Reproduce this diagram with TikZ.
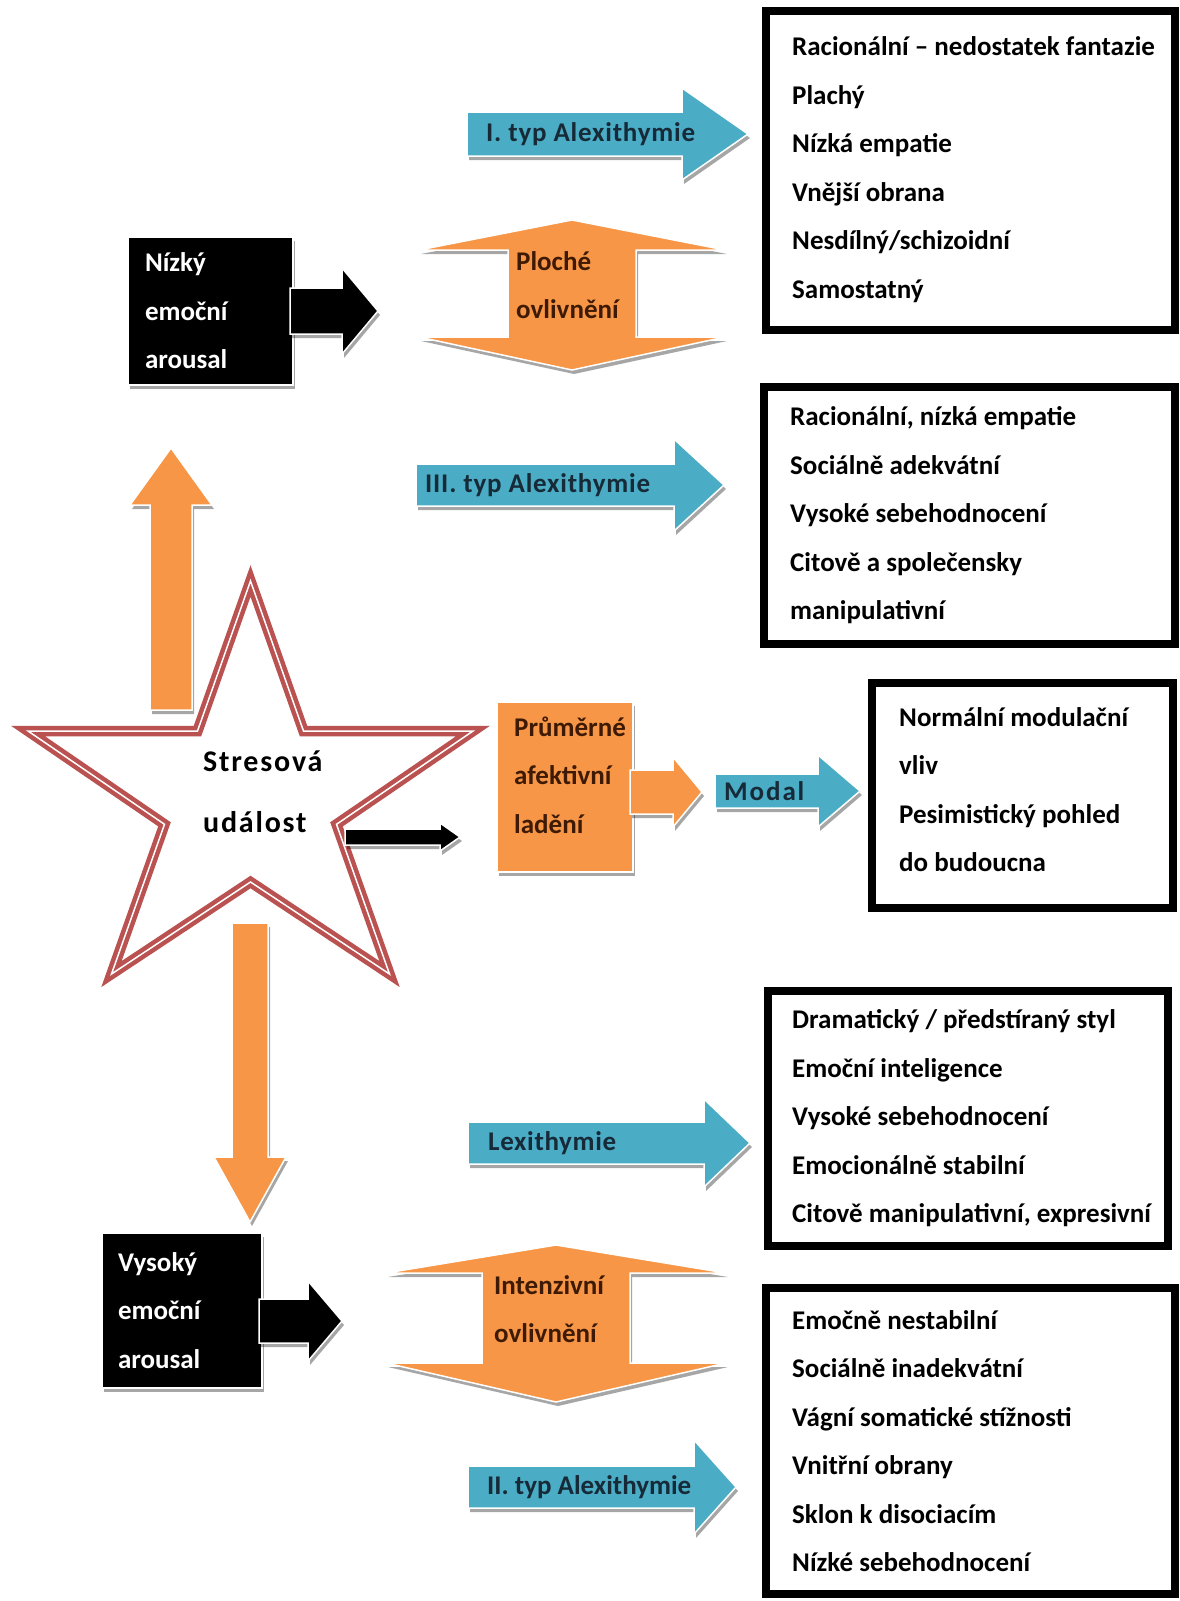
\documentclass[tikz,border=0pt]{standalone}
\usepackage{fontspec}
\setmainfont{Carlito}
\usetikzlibrary{shadows}

\definecolor{aqua}{RGB}{75,172,198}
\definecolor{orng}{RGB}{247,150,70}
\definecolor{starred}{RGB}{185,82,80}
\definecolor{aquatext}{RGB}{22,42,56}
\definecolor{orngtext}{RGB}{62,26,4}

\tikzset{
  blockshadow/.style={drop shadow={shadow xshift=2pt,shadow yshift=-4pt,opacity=.35,fill=black}},
  aquaarrow/.style={fill=aqua,draw=white,line width=1.5pt,blockshadow},
  orngarrow/.style={fill=orng,draw=white,line width=1.5pt,blockshadow},
  blackarrow/.style={fill=black,draw=white,line width=1.5pt,blockshadow},
  darkbox/.style={fill=black,draw=white,line width=1.5pt,blockshadow,text=white,align=left,inner sep=0pt},
  orngbox/.style={fill=orng,draw=white,line width=1.5pt,blockshadow,inner sep=0pt},
  listframe/.style={draw,line width=8pt,inner sep=0pt},
  inframe/.style={draw,line width=1.4pt},
  listtext/.style={anchor=west,align=left,inner sep=0pt},
  aquatxt/.style={anchor=west,inner sep=0pt,text=aquatext,
    font=\bfseries\fontsize{27}{48.5}\selectfont\addfontfeatures{LetterSpace=#1}},
  aquatxt/.default=0,
  orngtxt/.style={anchor=west,align=left,inner sep=0pt,text=orngtext},
  starline/.style={draw=starred,line width=4.5pt,double=white,double distance=1.5pt,line join=miter,fill=white}
}

\begin{document}
\begin{tikzpicture}[x=1pt,y=-1pt,font=\bfseries\fontsize{27}{48.5}\selectfont]
\useasboundingbox (0,0) rectangle (1179,1601);
\fill[white] (0,0) rectangle (1179,1601);

% star and the vertical arrows
\path[starline] (250.5,581) -- (197.5,731) -- (28,731) -- (164.5,824.3) -- (111.5,974) -- (250.5,882)
  -- (389.5,974) -- (336.5,824.3) -- (473,731) -- (303.5,731) -- cycle;
\node[anchor=west,align=left,inner sep=0pt,font=\bfseries\fontsize{30}{61}\selectfont\addfontfeatures{LetterSpace=6}] (stres) at (203,792) {Stresová\\událost};

\path[orngarrow] (150,710) -- (150,505) -- (130,505) -- (171,448) -- (212,505) -- (192,505) -- (192,710) -- cycle;
\path[orngarrow] (232,923) -- (232,1157) -- (214,1157) -- (250,1222) -- (286,1157) -- (268,1157) -- (268,923) -- cycle;

% arousal boxes
\node[darkbox,minimum width=165pt,minimum height=148pt,text width=131pt] (nizky) at (210.5,311) {Nízký\\emoční\\arousal};
\node[darkbox,minimum width=160pt,minimum height=155pt,text width=128pt] (vysoky) at (182,1310.5) {Vysoký\\emoční\\arousal};
\path[blackarrow] (290,288) -- (342,288) -- (342,268) -- (378,311) -- (342,354) -- (342,334) -- (290,334) -- cycle;
\path[blackarrow] (259,1299) -- (308,1299) -- (308,1281) -- (342,1321) -- (308,1361) -- (308,1343) -- (259,1343) -- cycle;

% up-down arrows
\path[orngarrow] (508,337) -- (508,250) -- (419,250) -- (572,220) -- (725,250) -- (636,250) -- (636,337)
  -- (725,337) -- (572,370) -- (419,337) -- cycle;
\node[orngtxt] (ploche) at (516,285) {Ploché\\ovlivnění};
\path[orngarrow] (482,1363) -- (482,1273) -- (386,1273) -- (556,1245) -- (726,1273) -- (630,1273) -- (630,1363)
  -- (726,1363) -- (556,1402) -- (386,1363) -- cycle;
\node[orngtxt] (intenz) at (494,1309) {Intenzivní\\ovlivnění};

% middle branch
\path[blackarrow] (345,829) -- (440,829) -- (440,823) -- (460,837) -- (440,851) -- (440,845) -- (345,845) -- cycle;
\node[orngbox,minimum width=136pt,minimum height=170pt] (prumer) at (565,787) {};
\node[orngtxt] (prumertx) at (514,775) {Průměrné\\afektivní\\ladění};
\path[orngarrow] (630,770) -- (673,770) -- (673,757) -- (702,792) -- (673,827) -- (673,814) -- (630,814) -- cycle;

% blue arrows
\path[aquaarrow] (467,112) -- (682,112) -- (682,88) -- (748,134) -- (682,180) -- (682,156) -- (467,156) -- cycle;
\node[aquatxt=3] (typ1) at (486,134) {I. typ Alexithymie};
\path[aquaarrow] (416,464) -- (674,464) -- (674,439) -- (724,485) -- (674,531) -- (674,506) -- (416,506) -- cycle;
\node[aquatxt=3] (typ3) at (425,485) {III. typ Alexithymie};
\path[aquaarrow] (715,774) -- (818,774) -- (818,755) -- (860,791) -- (818,827) -- (818,808) -- (715,808) -- cycle;
\node[aquatxt=7] (modal) at (724,791) {Modal};
\path[aquaarrow] (468,1122) -- (704,1122) -- (704,1099) -- (750,1143) -- (704,1187) -- (704,1164) -- (468,1164) -- cycle;
\node[aquatxt=2.5] (lexi) at (488,1143) {Lexithymie};
\path[aquaarrow] (468,1466) -- (694,1466) -- (694,1440) -- (736,1487) -- (694,1534) -- (694,1508) -- (468,1508) -- cycle;
\node[aquatxt] (typ2) at (487,1487) {II. typ Alexithymie};

% lists
\node[listframe,minimum width=409pt,minimum height=319pt] (box1) at (970.5,170.5) {};
\node[listframe,minimum width=411pt,minimum height=257pt] (box2) at (969.5,515.5) {};
\node[listframe,minimum width=301pt,minimum height=225pt] (box3) at (1022.5,795.5) {};
\node[listframe,minimum width=400pt,minimum height=255pt] (box4) at (968,1118.5) {};
\node[listframe,minimum width=409pt,minimum height=306pt] (box5) at (970.5,1441) {};
\foreach \b in {box1,box2,box3,box4,box5}
  \draw[inframe] ([shift={(7,7)}]\b.north west) rectangle ([shift={(-7,-7)}]\b.south east);

\node[listtext] (list1) at ([xshift=30pt,yshift=1pt]box1.west) {Racionální – nedostatek fantazie\\Plachý\\Nízká empatie\\Vnější obrana\\Nesdílný/schizoidní\\Samostatný};
\node[listtext] (list2) at ([xshift=30pt]box2.west) {Racionální, nízká empatie\\Sociálně adekvátní\\Vysoké sebehodnocení\\Citově a společensky\\manipulativní};
\node[listtext] (list3) at ([xshift=31pt,yshift=6pt]box3.west) {Normální modulační\\vliv\\Pesimistický pohled\\do budoucna};
\node[listtext] (list4) at ([xshift=28pt]box4.west) {Dramatický / předstíraný styl\\Emoční inteligence\\Vysoké sebehodnocení\\Emocionálně stabilní\\Citově manipulativní, expresivní};
\node[listtext] (list5) at ([xshift=30pt]box5.west) {Emočně nestabilní\\Sociálně inadekvátní\\Vágní somatické stížnosti\\Vnitřní obrany\\Sklon k disociacím\\Nízké sebehodnocení};

\end{tikzpicture}
\end{document}
